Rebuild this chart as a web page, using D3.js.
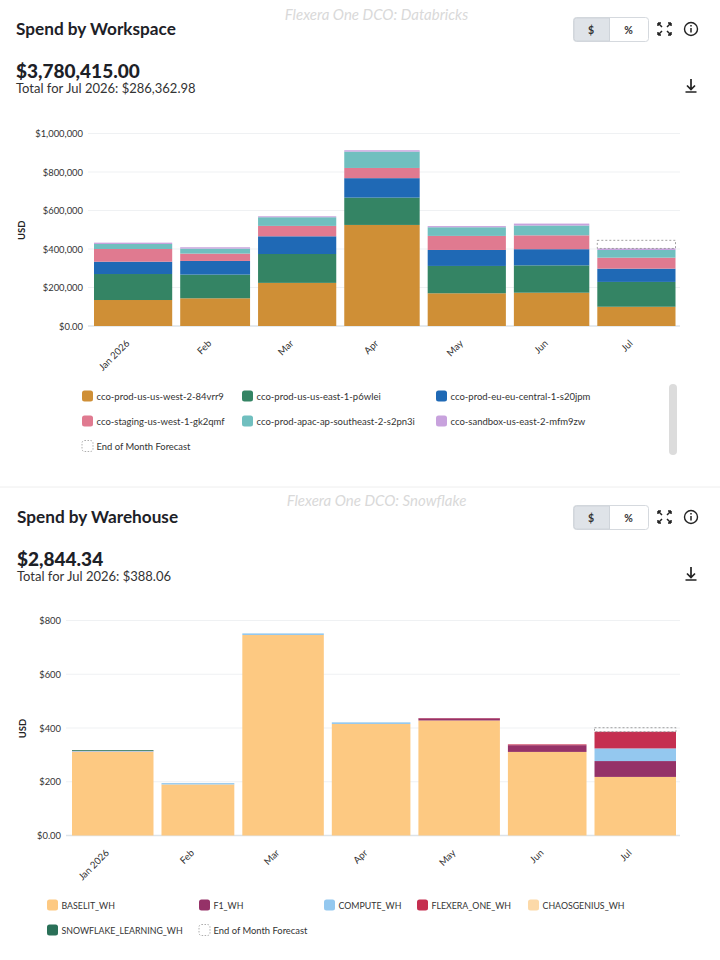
<!DOCTYPE html>
<html>
<head>
<meta charset="utf-8">
<script src="https://cdnjs.cloudflare.com/ajax/libs/d3/7.8.5/d3.min.js"></script>
<style>
  html, body { margin: 0; padding: 0; background: #fff; }
  svg { display: block; font-family: Lato, "Noto Sans", sans-serif; }
  .domain { display: none; }
</style>
</head>
<body>
<div id="viz"></div>
<script>
const monthLabels = ['Jan 2026', 'Feb', 'Mar', 'Apr', 'May', 'Jun', 'Jul'];

// Spend by Workspace
const workspaceNames = [
  'cco-prod-us-us-west-2-84vrr9', 'cco-prod-us-us-east-1-p6wlei', 'cco-prod-eu-eu-central-1-s20jpm',
  'cco-staging-us-west-1-gk2qmf', 'cco-prod-apac-ap-southeast-2-s2pn3i', 'cco-sandbox-us-east-2-mfm9zw'
];
const workspaceColors = ['#cf8f36', '#348464', '#1f69b5', '#e07a90', '#70bfbf', '#c8a2dd'];
const usWest = [135000, 144000, 224000, 525000, 170000, 173000, 100000];
const usEast = [135000, 123000, 150000, 142000, 142000, 142000, 129000];
const euCentral = [64000, 71000, 92000, 101000, 83000, 84000, 69000];
const staging = [66000, 38000, 54000, 53000, 73000, 72000, 57000];
const apac = [26000, 26000, 45000, 85000, 45000, 51000, 40000];
const sandbox = [7000, 7000, 5000, 7000, 6000, 10000, 8000];
const workspaceForecast = [null, null, null, null, null, null, 445000];
const workspaceTicks = [0, 200000, 400000, 600000, 800000, 1000000];

// Spend by Warehouse
const warehouseNames = ['BASELIT_WH', 'F1_WH', 'COMPUTE_WH', 'FLEXERA_ONE_WH', 'CHAOSGENIUS_WH', 'SNOWFLAKE_LEARNING_WH'];
const warehouseColors = ['#fdc982', '#953268', '#94c8ef', '#c52f50', '#fcd9a8', '#2a7058'];
const baselit = [311, 190, 746, 415, 428, 311, 218];
const f1 = [1, 0, 0, 0, 8, 25, 59];
const compute = [2, 5, 6, 6, 0, 0, 47];
const flexera = [0, 0, 0, 0, 1, 3, 62];
const chaosgenius = [1, 0, 0, 0, 0, 0, 0];
const snowflakeLearning = [3, 0, 0, 0, 0, 0, 0];
const warehouseForecast = [null, null, null, null, null, null, 401];
const warehouseTicks = [0, 200, 400, 600, 800];

const months = d3.timeMonth.range(new Date(2026, 0, 1), new Date(2026, 7, 1));

const wrapper = d3.select('div#viz')
  .append('svg')
  .attr('width', 720)
  .attr('height', 960);

function rows(seriesList) {
  return months.map((m, i) => {
    const row = { month: m, index: i };
    seriesList.forEach((s, k) => { row[k] = s[i]; });
    return row;
  });
}

function header(g, opts) {
  g.append('text').attr('x', opts.left).attr('y', 34.5).text(opts.title)
    .style('font-size', '17.2px').style('font-weight', 700).style('fill', '#1d2127');
  g.append('text').attr('x', 376.5).attr('y', opts.watermarkY).attr('text-anchor', 'middle').text(opts.watermark)
    .style('font-size', '15px').style('font-style', 'italic').style('fill', '#d9d9d9');
  g.append('text').attr('x', opts.left).attr('y', 77.5).text(opts.total)
    .style('font-size', '19px').style('font-weight', 900).style('fill', '#1d2127');
  g.append('text').attr('x', opts.left).attr('y', 93).text(opts.subtotal)
    .style('font-size', '13px').style('fill', '#333');

  // $ / % toggle
  g.append('rect').attr('x', 573.5).attr('y', 17.5).attr('width', 75).attr('height', 24).attr('rx', 3)
    .style('fill', '#fff').style('stroke', '#d5d9de');
  g.append('path').attr('d', 'M609.5,18 H576.5 a2.5,2.5 0 0 0 -2.5,2.5 V38.5 a2.5,2.5 0 0 0 2.5,2.5 H609.5 Z')
    .style('fill', '#dfe3e8').style('stroke', '#cfd4da');
  g.append('text').attr('x', 591).attr('y', 33.5).attr('text-anchor', 'middle').text('$')
    .style('font-size', '10.5px').style('font-weight', 700).style('fill', '#333');
  g.append('text').attr('x', 628.5).attr('y', 33.5).attr('text-anchor', 'middle').text('%')
    .style('font-size', '10.5px').style('font-weight', 700).style('fill', '#333');

  // expand icon
  g.append('path')
    .attr('d', 'M658,23 l4,4 M658,23 h3 M658,23 v3 M671,23 l-4,4 M671,23 h-3 M671,23 v3 M658,35 l4,-4 M658,35 h3 M658,35 v-3 M671,35 l-4,-4 M671,35 h-3 M671,35 v-3')
    .style('fill', 'none').style('stroke', '#222').style('stroke-width', 1.5);
  // info icon
  g.append('circle').attr('cx', 691).attr('cy', 29).attr('r', 6.5)
    .style('fill', 'none').style('stroke', '#222').style('stroke-width', 1.4);
  g.append('path').attr('d', 'M691,28 v4.5 M691,25 v1.4')
    .style('stroke', '#222').style('stroke-width', 1.5);
  // download icon
  g.append('path').attr('d', 'M691,79 v10 M687,85.5 l4,4 l4,-4 M685.5,92 h11')
    .style('fill', 'none').style('stroke', '#222').style('stroke-width', 1.7);
}

function drawChart(g, opts) {
  const data = rows(opts.series);
  const keys = opts.series.map((s, k) => k);

  const x = d3.scaleTime().domain([months[0], new Date(2026, 7, 1)]).range(opts.xRange);
  const y = d3.scaleLinear().domain([0, opts.yMax]).range([opts.yBottom, opts.yTop]);

  // grid
  g.append('g').selectAll('line')
    .data(opts.ticks)
    .join('line')
    .attr('x1', opts.xRange[0] - 2).attr('x2', 680)
    .attr('y1', d => y(d)).attr('y2', d => y(d))
    .style('stroke', d => d === 0 ? '#dde3e8' : '#eff1f3')
    .style('stroke-width', d => d === 0 ? 1.5 : 1);

  const yAxis = d3.axisLeft(y)
    .tickValues(opts.ticks)
    .tickSize(0)
    .tickPadding(0)
    .tickFormat(d => d === 0 ? '$0.00' : '$' + d3.format(',')(d));
  g.append('g')
    .attr('transform', `translate(${opts.xRange[0] - 7},0)`)
    .call(yAxis)
    .selectAll('text')
    .style('font-size', '9.4px').style('font-family', 'Lato').style('fill', '#333');

  g.append('text')
    .attr('transform', `translate(${opts.usdX},${(opts.yTop + opts.yBottom) / 2 + 0.5}) rotate(-90)`)
    .attr('text-anchor', 'middle')
    .text('USD')
    .style('font-size', '9.5px').style('font-weight', 700).style('fill', '#222');

  // stacked bars
  const stacked = d3.stack().keys(keys)(data);
  g.append('g').selectAll('g')
    .data(stacked)
    .join('g')
    .style('fill', (d, k) => opts.colors[k])
    .selectAll('rect')
    .data(d => d.filter(p => p[1] > p[0]))
    .join('rect')
    .attr('x', d => x(d.data.month) + 4)
    .attr('width', d => x(d3.timeMonth.offset(d.data.month, 1)) - x(d.data.month) - 8)
    .attr('y', d => y(d[1]))
    .attr('height', d => y(d[0]) - y(d[1]));

  // end of month forecast, dashed box on top of the current month
  const top = stacked[stacked.length - 1];
  g.append('g').selectAll('rect')
    .data(data.filter(d => opts.forecast[d.index] != null))
    .join('rect')
    .attr('x', d => x(d.month) + 4)
    .attr('width', d => x(d3.timeMonth.offset(d.month, 1)) - x(d.month) - 8)
    .attr('y', d => y(opts.forecast[d.index]))
    .attr('height', d => y(top[d.index][1]) - y(opts.forecast[d.index]))
    .style('fill', 'none')
    .style('stroke', '#8a8a8a')
    .style('stroke-width', 0.8)
    .style('stroke-dasharray', '2,2');

  // x axis labels sit at the middle of each month
  const mids = months.map(m => new Date((+m + +d3.timeMonth.offset(m, 1)) / 2));
  const xAxis = d3.axisBottom(x)
    .tickValues(mids)
    .tickSize(0)
    .tickFormat((d, i) => monthLabels[i]);
  g.append('g')
    .attr('transform', `translate(0,${opts.yBottom})`)
    .call(xAxis)
    .selectAll('text')
    .attr('text-anchor', 'end')
    .attr('dy', 0)
    .attr('y', 0)
    .attr('transform', 'translate(-3.5,18) rotate(-45)')
    .style('font-size', '9.6px').style('font-family', 'Lato').style('fill', '#333');

  // legend
  const legendItems = opts.names.map((n, k) => ({ name: n, color: opts.colors[k] }))
    .concat([{ name: 'End of Month Forecast', color: null }]);
  const item = g.append('g').selectAll('g')
    .data(legendItems)
    .join('g')
    .attr('transform', (d, i) => `translate(${opts.legendX[i]},${opts.legendY[i]})`);
  item.append('rect')
    .attr('x', 0).attr('y', -5.5).attr('width', 11).attr('height', 11).attr('rx', 2.5)
    .style('fill', d => d.color || 'none')
    .style('stroke', d => d.color ? 'none' : '#999')
    .style('stroke-width', 0.8)
    .style('stroke-dasharray', d => d.color ? null : '1.5,1.5');
  item.append('text')
    .attr('x', 14.5).attr('y', 3.5)
    .text(d => d.name)
    .style('font-size', d => d.color ? opts.legendSize : '9.4px').style('fill', '#333');
}

// top card
const topCard = wrapper.append('g');
header(topCard, {
  left: 16, title: 'Spend by Workspace', watermark: 'Flexera One DCO: Databricks', watermarkY: 20,
  total: '$3,780,415.00', subtotal: 'Total for Jul 2026: $286,362.98'
});
drawChart(topCard, {
  series: [usWest, usEast, euCentral, staging, apac, sandbox],
  names: workspaceNames, colors: workspaceColors, forecast: workspaceForecast,
  ticks: workspaceTicks, yMax: 1000000, yTop: 133.5, yBottom: 326,
  xRange: [90, 679.5], usdX: 25, legendSize: '9.5px',
  legendX: [82, 242, 436, 82, 242, 436, 82],
  legendY: [396, 396, 396, 421, 421, 421, 446]
});
// legend scrollbar
topCard.append('rect').attr('x', 669).attr('y', 384).attr('width', 8).attr('height', 71).attr('rx', 4)
  .style('fill', '#dcdcdc');

// divider between the two cards
wrapper.append('line').attr('x1', 0).attr('x2', 720).attr('y1', 487).attr('y2', 487)
  .style('stroke', '#eeeeee');

// bottom card
const bottomCard = wrapper.append('g').attr('transform', 'translate(0,488)');
header(bottomCard, {
  left: 17, title: 'Spend by Warehouse', watermark: 'Flexera One DCO: Snowflake', watermarkY: 18,
  total: '$2,844.34', subtotal: 'Total for Jul 2026: $388.06'
});
drawChart(bottomCard, {
  series: [baselit, f1, compute, flexera, chaosgenius, snowflakeLearning],
  names: warehouseNames, colors: warehouseColors, forecast: warehouseForecast,
  ticks: warehouseTicks, yMax: 800, yTop: 132.5, yBottom: 347.5,
  xRange: [68, 680], usdX: 26, legendSize: '8.8px',
  legendX: [47, 199, 324, 417, 528, 47, 199],
  legendY: [417, 417, 417, 417, 417, 442, 442]
});
</script>
</body>
</html>
